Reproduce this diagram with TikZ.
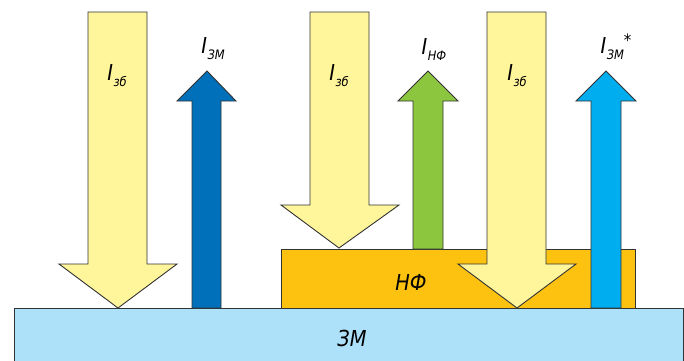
\documentclass[tikz,border=0pt]{standalone}
\usepackage{fontspec}
\setmainfont{DejaVu Sans}[FakeStretch=0.88]
\usetikzlibrary{positioning}

\definecolor{earthblue}{HTML}{ADE1FA}
\definecolor{filmorange}{HTML}{FDC20F}
\definecolor{sunyellow}{HTML}{FFF59B}
\definecolor{earthup}{HTML}{0070BA}
\definecolor{filmup}{HTML}{8CC63F}
\definecolor{starup}{HTML}{00ADEE}

\begin{document}
\begin{tikzpicture}[
x=1pt,y=-1pt,
outline/.style={draw=black!80,line width=0.9pt,line join=miter},
layer/.style={outline},
beam/.style={outline,fill=sunyellow},
lbl/.style={font=\itshape\fontsize{22}{22}\selectfont,inner sep=0pt}
]
\useasboundingbox (0,0) rectangle (684,360);
\clip (0,0) rectangle (684,360);

% ground and film
\draw[layer,fill=earthblue] (14,308) rectangle (683,366);
\node[lbl] (earth) at (352,338) {ЗМ};
\draw[layer,fill=filmorange] (281,249) rectangle (635,308);
\node[lbl] (film) at (411,282) {НФ};

% incoming beams
\draw[beam] (88,12) -- (147,12) -- (147,264) -- (177,264) -- (118,308)
  -- (59,264) -- (88,264) -- cycle;
\draw[beam] (310,12) -- (369,12) -- (369,205) -- (399,205) -- (339,248)
  -- (281,205) -- (310,205) -- cycle;

% outgoing beams
\draw[outline,fill=earthup] (192,308) -- (192,101) -- (177,101) -- (207,71)
  -- (236,101) -- (221,101) -- (221,308) -- cycle;
\draw[outline,fill=filmup] (413,249) -- (413,101) -- (398,101) -- (428,71)
  -- (458,101) -- (443,101) -- (443,249) -- cycle;

\draw[beam] (487,12) -- (546,12) -- (546,264) -- (576,264) -- (517,308)
  -- (458,264) -- (487,264) -- cycle;
\draw[outline,fill=starup] (591,308) -- (591,101) -- (576,101) -- (606,71)
  -- (636,101) -- (621,101) -- (621,308) -- cycle;

% labels
\node[lbl] (inA) at (117,76) {I\kern0.5pt\raisebox{-6pt}{\fontsize{13}{13}\selectfont зб}};
\node[lbl] (inB) at (339,76) {I\kern0.5pt\raisebox{-6pt}{\fontsize{13}{13}\selectfont зб}};
\node[lbl] (inC) at (517,76) {I\kern0.5pt\raisebox{-6pt}{\fontsize{13}{13}\selectfont зб}};
\node[lbl] (outE) at (213,49) {I\kern0.5pt\raisebox{-6pt}{\fontsize{13}{13}\selectfont ЗМ}};
\node[lbl] (outF) at (434,49) {I\kern0.5pt\raisebox{-6pt}{\fontsize{13}{13}\selectfont НФ}};
\node[lbl] (outS) at (616,47) {I\kern0.5pt\raisebox{-6pt}{\fontsize{13}{13}\selectfont ЗМ}\raisebox{7pt}{\fontsize{17}{17}\selectfont *}};
\end{tikzpicture}
\end{document}
